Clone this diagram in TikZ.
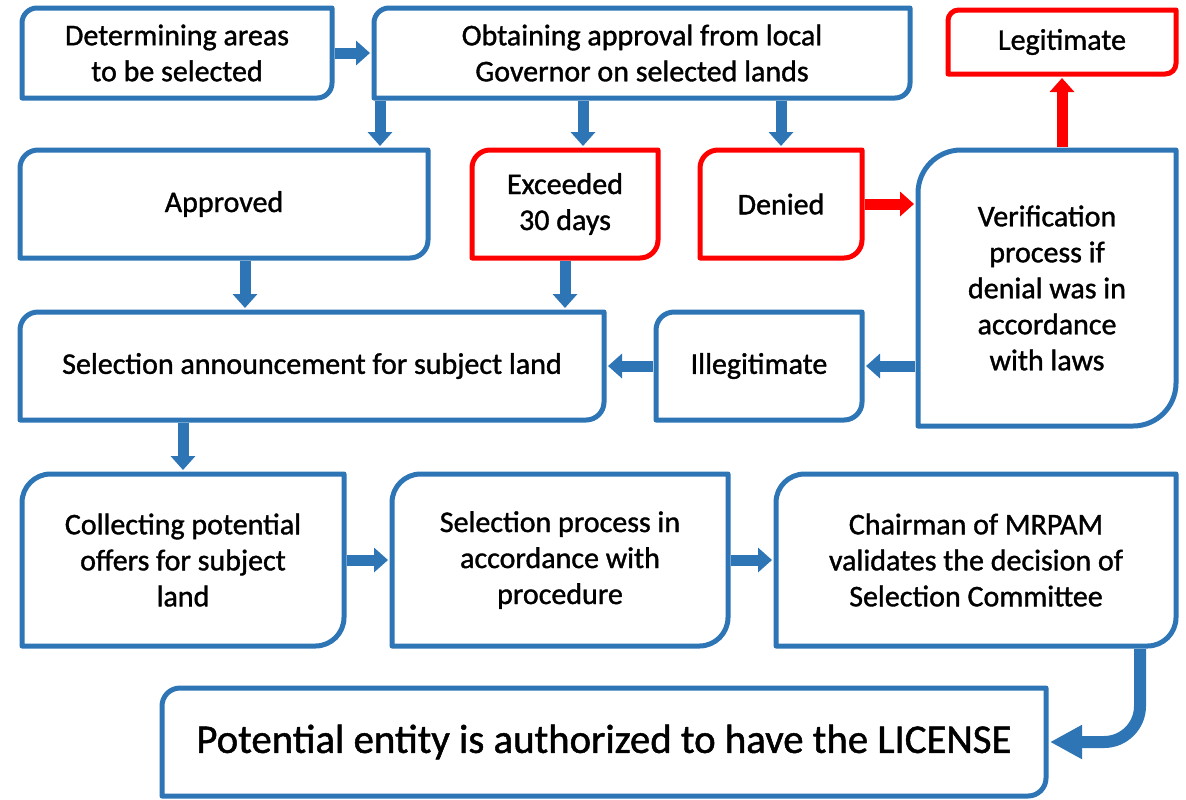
\documentclass[tikz,border=0pt]{standalone}
\usepackage{fontspec}
\setmainfont{Carlito}[FakeBold=1.2]
\usetikzlibrary{arrows.meta}
\definecolor{flowblue}{RGB}{46,117,182}
\definecolor{flowred}{RGB}{255,0,0}
\tikzset{
	box/.style={inner sep=0pt, outer sep=0pt, align=center, anchor=north west, font=\fontsize{15}{18}\selectfont},
	barrow/.style={line width=5.5pt, flowblue, shorten <=1.5pt, shorten >=2pt, -{Triangle[width=12pt,length=7pt]}},
	rarrow/.style={barrow, flowred},
}
\begin{document}
\begin{tikzpicture}[x=0.5pt, y=0.5pt, line join=round]
	\fill[white] (0,0) rectangle (1186,-799);
	\useasboundingbox (0,0) rectangle (1186,-799);
	% top row
	\node[box, minimum width=155pt, minimum height=45pt] (det) at (22,-8) {Determining areas\\to be selected};
	\node[box, minimum width=268pt, minimum height=45pt] (obt) at (374,-8) {Obtaining approval from local\\Governor on selected lands};
	\node[box, minimum width=114pt, minimum height=32pt] (leg) at (948,-10) {Legitimate};
	% answers of the governor
	\node[box, minimum width=204pt, minimum height=54pt] (app) at (20,-150) {Approved};
	\node[box, minimum width=93pt, minimum height=54pt] (exc) at (472,-150) {Exceeded\\30 days};
	\node[box, minimum width=81pt, minimum height=54pt] (den) at (700,-150) {Denied};
	\node[box, minimum width=129pt, minimum height=138pt] (ver) at (918,-150) {Verification\\process if\\denial was in\\accordance\\with laws};
	\node[box, minimum width=292pt, minimum height=54pt] (sel) at (20,-312) {Selection announcement for subject land};
	\node[box, minimum width=103pt, minimum height=54pt] (ill) at (656,-312) {Illegitimate};
	% selection
	\node[box, minimum width=161pt, minimum height=86pt] (col) at (22,-474) {Collecting potential\\offers for subject\\land};
	\node[box, minimum width=168pt, minimum height=86pt] (pro) at (392,-474) {Selection process in\\accordance with\\procedure};
	\node[box, minimum width=200pt, minimum height=86pt] (cha) at (776,-474) {Chairman of MRPAM\\validates the decision of\\Selection Committee};
	\node[box, minimum width=442pt, minimum height=54pt, font=\fontsize{20.4}{24}\selectfont] (pot) at (162,-688) {\raisebox{-3pt}{Potential entity is authorized to have the LICENSE}};

	% connectors
	\coordinate (a1) at ([xshift=3pt]obt.south west);
	\coordinate (a2) at ([xshift=9pt]exc.north);
	\coordinate (a3) at ([xshift=10.5pt]app.south);
	\coordinate (a4) at ([xshift=-18pt]cha.south east);
	\draw[barrow] (det) -- (obt);
	\draw[barrow] (a1) -- (a1 |- app.north);
	\draw[barrow] (a2 |- obt.south) -- (a2);
	\draw[barrow] (den.north |- obt.south) -- (den.north);
	\draw[rarrow] (den.east) -- (den.east -| ver.west);
	\draw[rarrow] (leg.south |- ver.north) -- (leg.south);
	\draw[barrow] (a3) -- (a3 |- sel.north);
	\draw[barrow] (exc.south) -- (exc.south |- sel.north);
	\draw[barrow] (ill.east -| ver.west) -- (ill.east);
	\draw[barrow] (ill) -- (sel);
	\draw[barrow] (col.north |- sel.south) -- (col.north);
	\draw[barrow] (col) -- (pro);
	\draw[barrow] (pro) -- (cha);
	\draw[barrow, line width=6pt, rounded corners=18pt, -{Triangle[width=16pt,length=16pt]}] (a4) |- (pot.east);

	% borders with rounded top left and bottom right corners
	\foreach \n/\c/\r in {det/flowblue/7.5pt, obt/flowblue/7.5pt, leg/flowred/5.3pt, app/flowblue/9pt,
		exc/flowred/9pt, den/flowred/9pt, ver/flowblue/21.5pt, sel/flowblue/9pt, ill/flowblue/9pt,
		col/flowblue/14.3pt, pro/flowblue/14.3pt, cha/flowblue/14.3pt, pot/flowblue/9pt}
		\draw[\c, line width=2.5pt] (\n.south west) -- ([yshift=-\r]\n.north west)
			arc[start angle=180, end angle=90, radius=\r] -- (\n.north east)
			-- ([yshift=\r]\n.south east) arc[start angle=0, end angle=-90, radius=\r] -- cycle;
\end{tikzpicture}
\end{document}
